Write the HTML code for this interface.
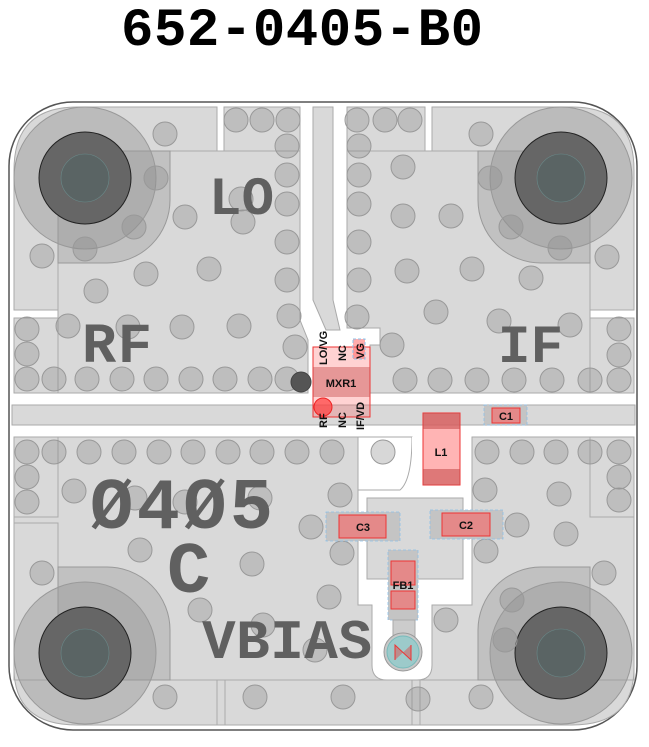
<!DOCTYPE html>
<html><head><meta charset="utf-8"><style>
html,body{margin:0;padding:0;background:#fff;width:649px;height:747px;overflow:hidden}
svg{display:block}
.p{fill:#d9d9d9;stroke:#aaa;stroke-width:1}
.v{fill:rgba(140,140,140,0.35);stroke:#999;stroke-width:1}
.L{font-family:"Liberation Mono",monospace;font-weight:bold;fill:#606060}
.s{font-family:"Liberation Sans",sans-serif;font-weight:bold;fill:#111;font-size:11px}
.pad{fill:rgba(255,90,90,0.55);stroke:#e33;stroke-width:1}
.out{fill:#c4c4c4;stroke:#8cc0e8;stroke-width:0.8;stroke-dasharray:3 2}
</style></head><body>
<svg width="649" height="747" viewBox="0 0 649 747" xmlns="http://www.w3.org/2000/svg">
<text x="302" y="45" text-anchor="middle" font-family="Liberation Mono,monospace" font-weight="bold" font-size="54" textLength="362" fill="#000">652-0405-B0</text>
<rect x="9" y="102" width="628" height="628" rx="64" fill="#fff" stroke="#555" stroke-width="1.5"/>
<!-- top strip blocks -->
<path class="p" d="M14 170 Q14 107 77 107 H217 V310 H14 Z"/>
<rect class="p" x="224" y="107" width="76" height="45"/>
<rect class="p" x="347" y="107" width="78" height="45"/>
<path class="p" d="M432 107 H572 Q634 107 634 170 V310 H432 Z"/>
<!-- LO trace -->
<path class="p" d="M313 107 H333 V300 L340 330 H326 L313 300 Z"/>
<!-- LO/RF plane -->
<path class="p" d="M58 151 H300 V320 L308 340 V393 H14 V318 H58 Z"/>
<rect class="p" x="14" y="318" width="44" height="75"/>
<!-- IF plane -->
<path class="p" d="M347 151 H590 V393 H370 V345 H380 V328 H347 Z"/>
<rect class="p" x="590" y="318" width="44" height="75"/>
<!-- middle strip -->
<rect class="p" x="12" y="405" width="623" height="20"/>
<!-- bottom plane -->
<path class="p" d="M14 437 H358 V605 H372 V665 Q372 680 387 680 H417 Q432 680 432 665 V605 H472 V437 H634 V680 H14 Z"/>
<path fill="#fff" stroke="#aaa" d="M358 437 H412 Q412 480 400 490 H358 Z"/>
<rect x="412" y="437" width="48" height="52" fill="#fff"/>
<rect class="p" x="367" y="498" width="96" height="81"/>
<rect class="p" x="14" y="437" width="44" height="80"/>
<rect class="p" x="590" y="437" width="44" height="80"/>
<path class="p" d="M14 523 H58 V680 H14 Z"/>
<path class="p" d="M14 680 H634 V668 Q634 725 572 725 H77 Q14 725 14 668 Z"/>
<line x1="217" y1="680" x2="217" y2="725" stroke="#aaa"/><line x1="225" y1="680" x2="225" y2="725" stroke="#aaa"/>
<line x1="412" y1="680" x2="412" y2="725" stroke="#aaa"/><line x1="420" y1="680" x2="420" y2="725" stroke="#aaa"/>
<!-- corner connectors -->
<g>
<path d="M58 151 H170 V200 A63 63 0 0 1 107 263 H58 Z" fill="rgba(150,150,150,0.35)" stroke="#999"/>
<circle cx="85" cy="178" r="71" fill="rgba(150,150,150,0.45)" stroke="#999"/>
<circle cx="85" cy="178" r="46" fill="#666" stroke="#222"/>
<circle cx="85" cy="178" r="24" fill="#5a6464" stroke="#6a8a8a" stroke-width="0.6"/>
<path d="M590 151 H478 V200 A63 63 0 0 0 541 263 H590 Z" fill="rgba(150,150,150,0.35)" stroke="#999"/>
<circle cx="561" cy="178" r="71" fill="rgba(150,150,150,0.45)" stroke="#999"/>
<circle cx="561" cy="178" r="46" fill="#666" stroke="#222"/>
<circle cx="561" cy="178" r="24" fill="#5a6464" stroke="#6a8a8a" stroke-width="0.6"/>
<path d="M58 680 H170 V630 A63 63 0 0 0 107 567 H58 Z" fill="rgba(150,150,150,0.35)" stroke="#999"/>
<circle cx="85" cy="653" r="71" fill="rgba(150,150,150,0.45)" stroke="#999"/>
<circle cx="85" cy="653" r="46" fill="#666" stroke="#222"/>
<circle cx="85" cy="653" r="24" fill="#5a6464" stroke="#6a8a8a" stroke-width="0.6"/>
<path d="M590 680 H478 V630 A63 63 0 0 1 541 567 H590 Z" fill="rgba(150,150,150,0.35)" stroke="#999"/>
<circle cx="561" cy="653" r="71" fill="rgba(150,150,150,0.45)" stroke="#999"/>
<circle cx="561" cy="653" r="46" fill="#666" stroke="#222"/>
<circle cx="561" cy="653" r="24" fill="#5a6464" stroke="#6a8a8a" stroke-width="0.6"/>
</g>
<!-- vias -->
<g class="v">
<circle cx="165" cy="134" r="12"/><circle cx="156" cy="178" r="12"/><circle cx="42" cy="256" r="12"/><circle cx="85" cy="249" r="12"/><circle cx="134" cy="227" r="12"/><circle cx="185" cy="217" r="12"/><circle cx="146" cy="274" r="12"/><circle cx="96" cy="291" r="12"/><circle cx="209" cy="269" r="12"/><circle cx="243" cy="222" r="12"/><circle cx="241" cy="199" r="12"/>
<circle cx="236" cy="120" r="12"/><circle cx="262" cy="120" r="12"/><circle cx="288" cy="120" r="12"/><circle cx="287" cy="146" r="12"/><circle cx="287" cy="175" r="12"/><circle cx="287" cy="204" r="12"/><circle cx="287" cy="242" r="12"/><circle cx="287" cy="280" r="12"/><circle cx="289" cy="316" r="12"/><circle cx="295" cy="347" r="12"/>
<circle cx="68" cy="326" r="12"/><circle cx="27" cy="329" r="12"/><circle cx="27" cy="354" r="12"/><circle cx="128" cy="327" r="12"/><circle cx="182" cy="327" r="12"/><circle cx="239" cy="326" r="12"/>
<circle cx="27" cy="379" r="12"/><circle cx="54" cy="379" r="12"/><circle cx="87" cy="379" r="12"/><circle cx="122" cy="379" r="12"/><circle cx="156" cy="379" r="12"/><circle cx="191" cy="379" r="12"/><circle cx="225" cy="379" r="12"/><circle cx="260" cy="379" r="12"/><circle cx="287" cy="379" r="12"/>
<circle cx="357" cy="120" r="12"/><circle cx="385" cy="120" r="12"/><circle cx="410" cy="120" r="12"/><circle cx="359" cy="146" r="12"/><circle cx="359" cy="175" r="12"/><circle cx="359" cy="204" r="12"/><circle cx="359" cy="242" r="12"/><circle cx="359" cy="280" r="12"/><circle cx="357" cy="317" r="12"/>
<circle cx="481" cy="134" r="12"/><circle cx="403" cy="167" r="12"/><circle cx="490" cy="178" r="12"/><circle cx="403" cy="216" r="12"/><circle cx="451" cy="216" r="12"/><circle cx="511" cy="227" r="12"/><circle cx="560" cy="248" r="12"/><circle cx="607" cy="257" r="12"/><circle cx="407" cy="271" r="12"/><circle cx="472" cy="269" r="12"/><circle cx="531" cy="278" r="12"/><circle cx="436" cy="312" r="12"/><circle cx="499" cy="321" r="12"/><circle cx="570" cy="325" r="12"/><circle cx="392" cy="345" r="12"/>
<circle cx="405" cy="380" r="12"/><circle cx="440" cy="380" r="12"/><circle cx="477" cy="380" r="12"/><circle cx="514" cy="380" r="12"/><circle cx="552" cy="380" r="12"/><circle cx="590" cy="380" r="12"/><circle cx="619" cy="380" r="12"/><circle cx="619" cy="355" r="12"/><circle cx="619" cy="329" r="12"/>
<circle cx="27" cy="452" r="12"/><circle cx="54" cy="452" r="12"/><circle cx="89" cy="452" r="12"/><circle cx="124" cy="452" r="12"/><circle cx="159" cy="452" r="12"/><circle cx="193" cy="452" r="12"/><circle cx="228" cy="452" r="12"/><circle cx="262" cy="452" r="12"/><circle cx="297" cy="452" r="12"/><circle cx="332" cy="452" r="12"/><circle cx="383" cy="452" r="12"/>
<circle cx="27" cy="477" r="12"/><circle cx="27" cy="502" r="12"/><circle cx="74" cy="491" r="12"/><circle cx="135" cy="498" r="12"/><circle cx="185" cy="502" r="12"/><circle cx="260" cy="498" r="12"/><circle cx="311" cy="527" r="12"/><circle cx="42" cy="573" r="12"/><circle cx="140" cy="550" r="12"/><circle cx="252" cy="564" r="12"/><circle cx="200" cy="610" r="12"/><circle cx="263" cy="625" r="12"/><circle cx="315" cy="650" r="12"/><circle cx="340" cy="495" r="12"/><circle cx="342" cy="553" r="12"/><circle cx="329" cy="597" r="12"/><circle cx="446" cy="620" r="12"/>
<circle cx="487" cy="452" r="12"/><circle cx="522" cy="452" r="12"/><circle cx="556" cy="452" r="12"/><circle cx="590" cy="452" r="12"/><circle cx="619" cy="452" r="12"/><circle cx="619" cy="477" r="12"/><circle cx="619" cy="500" r="12"/><circle cx="485" cy="490" r="12"/><circle cx="559" cy="494" r="12"/><circle cx="517" cy="525" r="12"/><circle cx="566" cy="534" r="12"/><circle cx="486" cy="551" r="12"/><circle cx="604" cy="573" r="12"/><circle cx="512" cy="600" r="12"/><circle cx="505" cy="640" r="12"/>
<circle cx="165" cy="697" r="12"/><circle cx="255" cy="697" r="12"/><circle cx="343" cy="697" r="12"/><circle cx="418" cy="699" r="12"/><circle cx="481" cy="697" r="12"/>
</g>
<!-- labels -->
<text class="L" x="209" y="214" font-size="54" textLength="65">LO</text>
<text class="L" x="82" y="362" font-size="57" textLength="70">RF</text>
<text class="L" x="498" y="362" font-size="54" textLength="65">IF</text>
<text class="L" x="90" y="528" font-size="72" textLength="183">Ø4Ø5</text>
<text class="L" x="167" y="592" font-size="72">C</text>
<text class="L" x="202" y="658" font-size="56" textLength="170">VBIAS</text>
<!-- MXR1 -->
<circle cx="301" cy="382" r="10" fill="#555" stroke="#444"/>
<rect x="313" y="347" width="57" height="70" class="pad" fill-opacity="0.5"/>
<rect x="313" y="367" width="57" height="30" fill="rgba(200,80,80,0.45)"/>
<rect x="353" y="339" width="12" height="20" fill="rgba(255,90,90,0.5)" stroke="#8cc0e8" stroke-dasharray="3 2"/>
<circle cx="323" cy="407" r="9" fill="rgba(255,60,60,0.7)" stroke="#e22"/>
<text class="s" x="341" y="387" text-anchor="middle" font-size="12">MXR1</text>
<text class="s" transform="translate(327,365) rotate(-90)">LO/VG</text>
<text class="s" transform="translate(346,361) rotate(-90)">NC</text>
<text class="s" transform="translate(364,359) rotate(-90)">VG</text>
<text class="s" transform="translate(327,428) rotate(-90)">RF</text>
<text class="s" transform="translate(346,428) rotate(-90)">NC</text>
<text class="s" transform="translate(364,430) rotate(-90)">IF/VD</text>
<!-- L1 -->
<rect x="423" y="413" width="37" height="72" fill="rgba(255,130,130,0.6)" stroke="#e33"/>
<rect x="423" y="413" width="37" height="16" fill="rgba(200,80,80,0.6)"/>
<rect x="423" y="469" width="37" height="16" fill="rgba(200,80,80,0.6)"/>
<text class="s" x="441" y="456" text-anchor="middle" font-size="12">L1</text>
<!-- C1 -->
<rect class="out" x="484" y="405" width="43" height="20"/>
<rect class="pad" x="492" y="408" width="28" height="15"/>
<text class="s" x="506" y="420" text-anchor="middle" font-size="12">C1</text>
<!-- C3 -->
<rect class="out" x="326" y="512" width="74" height="29"/>
<rect class="pad" x="339" y="515" width="47" height="23"/>
<text class="s" x="363" y="531" text-anchor="middle" font-size="12">C3</text>
<!-- C2 -->
<rect class="out" x="430" y="510" width="73" height="29"/>
<rect class="pad" x="442" y="513" width="48" height="23"/>
<text class="s" x="466" y="529" text-anchor="middle" font-size="12">C2</text>
<!-- FB1 -->
<rect class="out" x="388" y="550" width="30" height="70"/>
<rect class="pad" x="391" y="561" width="24" height="24"/>
<rect class="pad" x="391" y="591" width="24" height="18"/>
<text class="s" x="403" y="589" text-anchor="middle" font-size="12">FB1</text>
<rect x="393" y="620" width="22" height="18" fill="#ccc" stroke="#aaa"/>
<circle cx="403" cy="652" r="19" fill="#c8c8c8" stroke="#999"/>
<circle cx="403" cy="652" r="16" fill="#9ccaca" stroke="#7bb"/>
<path d="M395 660 V645 L411 660 V645" fill="rgba(220,80,80,0.5)" stroke="#e33"/>
</svg>
</body></html>
